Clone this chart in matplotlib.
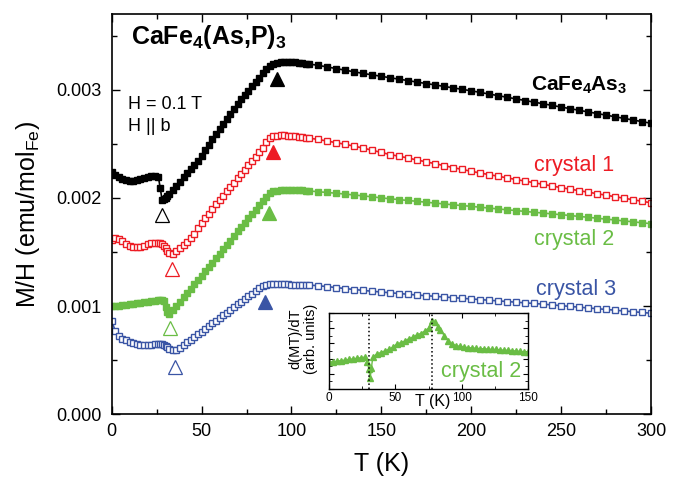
import matplotlib
matplotlib.use("Agg")
import numpy as np
import matplotlib.pyplot as plt
from matplotlib.ticker import MultipleLocator, FormatStrFormatter

plt.rcParams['font.family'] = ['Liberation Sans', 'DejaVu Sans']
plt.rcParams['mathtext.fontset'] = 'custom'
plt.rcParams['mathtext.rm'] = 'Liberation Sans'
plt.rcParams['mathtext.it'] = 'Liberation Sans:italic'
plt.rcParams['mathtext.bf'] = 'Liberation Sans:bold'

# temperature grid of the M/H curves (K)
temps = [0, 2, 4, 6, 8, 10, 12, 14, 16, 18, 20, 22, 24, 26,
         27, 28, 29, 30, 31, 32,
         34, 36, 38, 40, 42, 44, 46, 48, 50, 52, 54, 56, 58, 60, 62, 64, 66,
         68, 70, 72, 74, 76, 78, 80, 82, 84, 86, 88, 90, 92, 94, 96, 98, 100,
         102, 104, 106, 108, 110,
         115, 120, 125, 130, 135, 140, 145, 150, 155, 160, 165, 170, 175, 180,
         185, 190, 195, 200, 205, 210, 215, 220, 225, 230, 235, 240, 245, 250,
         255, 260, 265, 270, 275, 280, 285, 290, 295, 300]

# M/H in units of 1e-3 emu/mol_Fe
cafe4as3 = [2.24, 2.215, 2.19, 2.175, 2.165, 2.16, 2.16, 2.165, 2.172, 2.182, 2.193, 2.2, 2.2, 2.19,
            2.09, 1.985, 1.99, 2.00, 2.017, 2.035,
            2.07, 2.11, 2.15, 2.19, 2.23, 2.265, 2.30, 2.345, 2.39, 2.44, 2.49, 2.54, 2.59,
            2.64, 2.685, 2.73, 2.78, 2.825, 2.87, 2.91, 2.95, 2.99, 3.03, 3.07, 3.11, 3.15,
            3.19, 3.22, 3.24, 3.248, 3.253, 3.256, 3.256, 3.255, 3.252, 3.249, 3.245, 3.241, 3.237,
            3.225, 3.21, 3.195, 3.18, 3.165, 3.15, 3.137, 3.124, 3.11, 3.097, 3.084, 3.07,
            3.057, 3.044, 3.03, 3.017, 3.003, 2.99, 2.975, 2.96, 2.945, 2.93, 2.915, 2.90,
            2.885, 2.87, 2.855, 2.84, 2.825, 2.81, 2.795, 2.78, 2.765, 2.75, 2.735, 2.72,
            2.705, 2.69]

crystal1 = [1.61, 1.63, 1.62, 1.60, 1.575, 1.555, 1.545, 1.545, 1.55, 1.56, 1.57, 1.58, 1.585, 1.585,
            1.58, 1.57, 1.555, 1.535, 1.51, 1.49,
            1.48, 1.505, 1.535, 1.565, 1.595, 1.63, 1.67, 1.72, 1.77, 1.81, 1.855, 1.895, 1.94,
            1.98, 2.02, 2.06, 2.10, 2.14, 2.18, 2.22, 2.26, 2.30, 2.34, 2.38, 2.42, 2.465,
            2.515, 2.55, 2.568, 2.575, 2.577, 2.577, 2.576, 2.574, 2.571, 2.567, 2.562, 2.557, 2.552,
            2.54, 2.525, 2.51, 2.495, 2.478, 2.46, 2.44, 2.42, 2.40, 2.385, 2.368, 2.35,
            2.333, 2.316, 2.298, 2.28, 2.263, 2.246, 2.23, 2.215, 2.2, 2.185, 2.17, 2.155,
            2.14, 2.125, 2.11, 2.095, 2.081, 2.067, 2.053, 2.039, 2.025, 2.011, 1.997, 1.983,
            1.969, 1.955]

crystal2 = [1.00, 1.00, 1.003, 1.007, 1.01, 1.015, 1.02, 1.025, 1.03, 1.035, 1.04, 1.045, 1.05, 1.055,
            1.058, 1.06, 1.045, 0.99, 0.945, 0.93,
            0.96, 1.0, 1.04, 1.08, 1.12, 1.16, 1.20, 1.24, 1.28, 1.32, 1.36, 1.40, 1.44,
            1.485, 1.525, 1.565, 1.605, 1.65, 1.69, 1.73, 1.77, 1.81, 1.85, 1.89, 1.93, 1.97,
            2.01, 2.045, 2.06, 2.068, 2.072, 2.074, 2.075, 2.075, 2.074, 2.072, 2.07, 2.067, 2.064,
            2.057, 2.05, 2.043, 2.035, 2.027, 2.018, 2.01, 2.0, 1.992, 1.984, 1.976, 1.968,
            1.96, 1.952, 1.944, 1.936, 1.929, 1.922, 1.914, 1.906, 1.898, 1.89, 1.883, 1.875,
            1.867, 1.86, 1.852, 1.845, 1.837, 1.829, 1.821, 1.812, 1.804, 1.796, 1.787, 1.779,
            1.77, 1.762]

crystal3 = [0.86, 0.77, 0.725, 0.70, 0.685, 0.67, 0.655, 0.645, 0.638, 0.636, 0.638, 0.642, 0.646, 0.65,
            0.65, 0.648, 0.643, 0.635, 0.62, 0.605,
            0.59, 0.59, 0.615, 0.64, 0.665, 0.69, 0.715, 0.74, 0.765, 0.79, 0.815, 0.84, 0.865,
            0.89, 0.915, 0.94, 0.965, 0.99, 1.015, 1.04, 1.065, 1.09, 1.115, 1.14, 1.165, 1.185,
            1.195, 1.2, 1.2, 1.2, 1.2, 1.2, 1.2, 1.199, 1.198, 1.197, 1.196, 1.195, 1.194,
            1.188, 1.18, 1.171, 1.162, 1.153, 1.145, 1.137, 1.13, 1.123, 1.116, 1.109, 1.102,
            1.096, 1.09, 1.084, 1.078, 1.072, 1.066, 1.06, 1.054, 1.048, 1.042, 1.036, 1.03,
            1.024, 1.018, 1.011, 1.004, 0.997, 0.99, 0.983, 0.976, 0.969, 0.962, 0.955, 0.948,
            0.941, 0.934]

# transition markers: (T, M/H in 1e-3) for the low (open) and high (filled) anomalies
low_t = [27.8, 33.3, 32.4, 35.2]
low_m = [1.845, 1.345, 0.799, 0.441]
high_t = [91.7, 89.8, 87.6, 85.5]
high_m = [3.095, 2.42, 1.861, 1.04]

# d(MT)/dT of crystal 2 (arb. units)
inset_t = [0, 3, 6, 9, 12, 15, 18, 21, 24, 27, 29, 30, 31, 32, 33, 36, 39, 42, 45, 48,
           51, 54, 57, 60, 63, 66, 69, 72, 75, 78, 80, 82, 84, 87, 90, 93, 96, 99, 102,
           105, 108, 111, 114, 117, 120, 123, 126, 129, 132, 135, 138, 141, 144, 147, 150]
inset_d = [0.35, 0.36, 0.365, 0.375, 0.38, 0.39, 0.395, 0.405, 0.41, 0.42, 0.36, 0.26,
           0.14, 0.28, 0.42, 0.46, 0.48, 0.50, 0.52, 0.55, 0.59, 0.61, 0.63, 0.66, 0.68,
           0.71, 0.73, 0.76, 0.80, 0.90, 0.88, 0.82, 0.78, 0.70, 0.63, 0.59, 0.57, 0.56,
           0.55, 0.545, 0.54, 0.535, 0.53, 0.53, 0.525, 0.52, 0.52, 0.515, 0.51, 0.51,
           0.505, 0.50, 0.495, 0.49, 0.49]
inset_lines = [30, 78]

black = 'black'
red = '#ED1C24'
green = '#6ABD45'
blue = '#3A55A5'
colors = [black, red, green, blue]

fig = plt.figure(figsize=(6.82, 4.82), dpi=100)
ax = fig.add_axes([0.1638, 0.1405, 0.7907, 0.8305])

T = np.array(temps)
series = [cafe4as3, crystal1, crystal2, crystal3]
filled = [True, False, True, False]
for vals, c, f in zip(series, colors, filled):
    ax.plot(T, np.array(vals) * 1e-3, color=c, lw=1.2, marker='s', ms=5.0,
            mec=c, mfc=c if f else 'white', mew=1.0)

for i, c in enumerate(colors):
    ax.plot(low_t[i], low_m[i] * 1e-3, marker='^', ms=10.5, mfc='white', mec=c, mew=0.9)
    ax.plot(high_t[i], high_m[i] * 1e-3, marker='^', ms=10.5, mfc=c, mec=c, mew=0.9)

ax.set_xlim(0, 300)
ax.set_ylim(0, 0.0037)
ax.xaxis.set_major_locator(MultipleLocator(50))
ax.xaxis.set_minor_locator(MultipleLocator(25))
ax.yaxis.set_major_locator(MultipleLocator(0.001))
ax.yaxis.set_minor_locator(MultipleLocator(0.0005))
ax.yaxis.set_major_formatter(FormatStrFormatter('%.3f'))
ax.tick_params(which='both', direction='in', top=True, right=True, width=1.0,
               labelsize=13)
ax.tick_params(axis='y', which='both', pad=7)
ax.tick_params(axis='x', which='both', pad=6)
ax.tick_params(which='major', length=6)
ax.tick_params(which='minor', length=3.5)
for s in ax.spines.values():
    s.set_linewidth(1.2)

ax.set_xlabel('T (K)', fontsize=18)
ax.xaxis.set_label_coords(0.5, -0.095)
ax.set_ylabel(r'M/H (emu/mol$_\mathrm{Fe}$)', fontsize=18)
ax.yaxis.set_label_coords(-0.13, 0.5)

ax.text(11, 0.00342, r'CaFe$_\mathbf{4}$(As,P)$_\mathbf{3}$', fontsize=18,
        fontweight='bold', va='baseline')
ax.text(9, 0.00282, 'H = 0.1 T', fontsize=13, va='baseline')
ax.text(9, 0.00262, 'H || b', fontsize=13, va='baseline')

ax.text(233.3, 0.002987, r'CaFe$_\mathbf{4}$As$_\mathbf{3}$', fontsize=15,
        fontweight='bold', color=black, va='baseline')
ax.text(235.2, 0.002246, 'crystal 1', fontsize=15.5, color=red, va='baseline')
ax.text(235.2, 0.001568, 'crystal 2', fontsize=15.5, color=green, va='baseline')
ax.text(236, 0.001105, 'crystal 3', fontsize=15.5, color=blue, va='baseline')

# inset: derivative of crystal 2
ins = fig.add_axes([0.4824, 0.1929, 0.2918, 0.1577])
ins.plot(inset_t, inset_d, color=green, lw=1.0, marker='^', ms=4.5, mec=green, mfc=green)
for t in inset_lines:
    ins.axvline(t, color='black', ls=':', lw=1.1)
ins.set_xlim(0, 150)
ins.set_ylim(0, 1)
ins.xaxis.set_major_locator(MultipleLocator(50))
ins.xaxis.set_minor_locator(MultipleLocator(25))
ins.yaxis.set_major_locator(MultipleLocator(0.2))
ins.yaxis.set_minor_locator(MultipleLocator(0.1))
ins.set_yticklabels([])
ins.tick_params(which='both', direction='in', top=True, right=True, labelsize=8.5, pad=2)
ins.tick_params(which='major', length=3.5)
ins.tick_params(which='minor', length=2)
for s in ins.spines.values():
    s.set_linewidth(1.0)
ins.text(0.52, -0.06, 'T (K)', transform=ins.transAxes, ha='center', va='top', fontsize=11.5)
ins.text(-0.13, 0.66, 'd(MT)/dT\n(arb. units)', transform=ins.transAxes, rotation=90,
         ha='center', va='center', fontsize=10.5, linespacing=1.1, multialignment='center')
ins.text(0.565, 0.16, 'crystal 2', transform=ins.transAxes, color=green, fontsize=15.5,
         va='baseline')

fig.savefig('out.png', dpi=100)
